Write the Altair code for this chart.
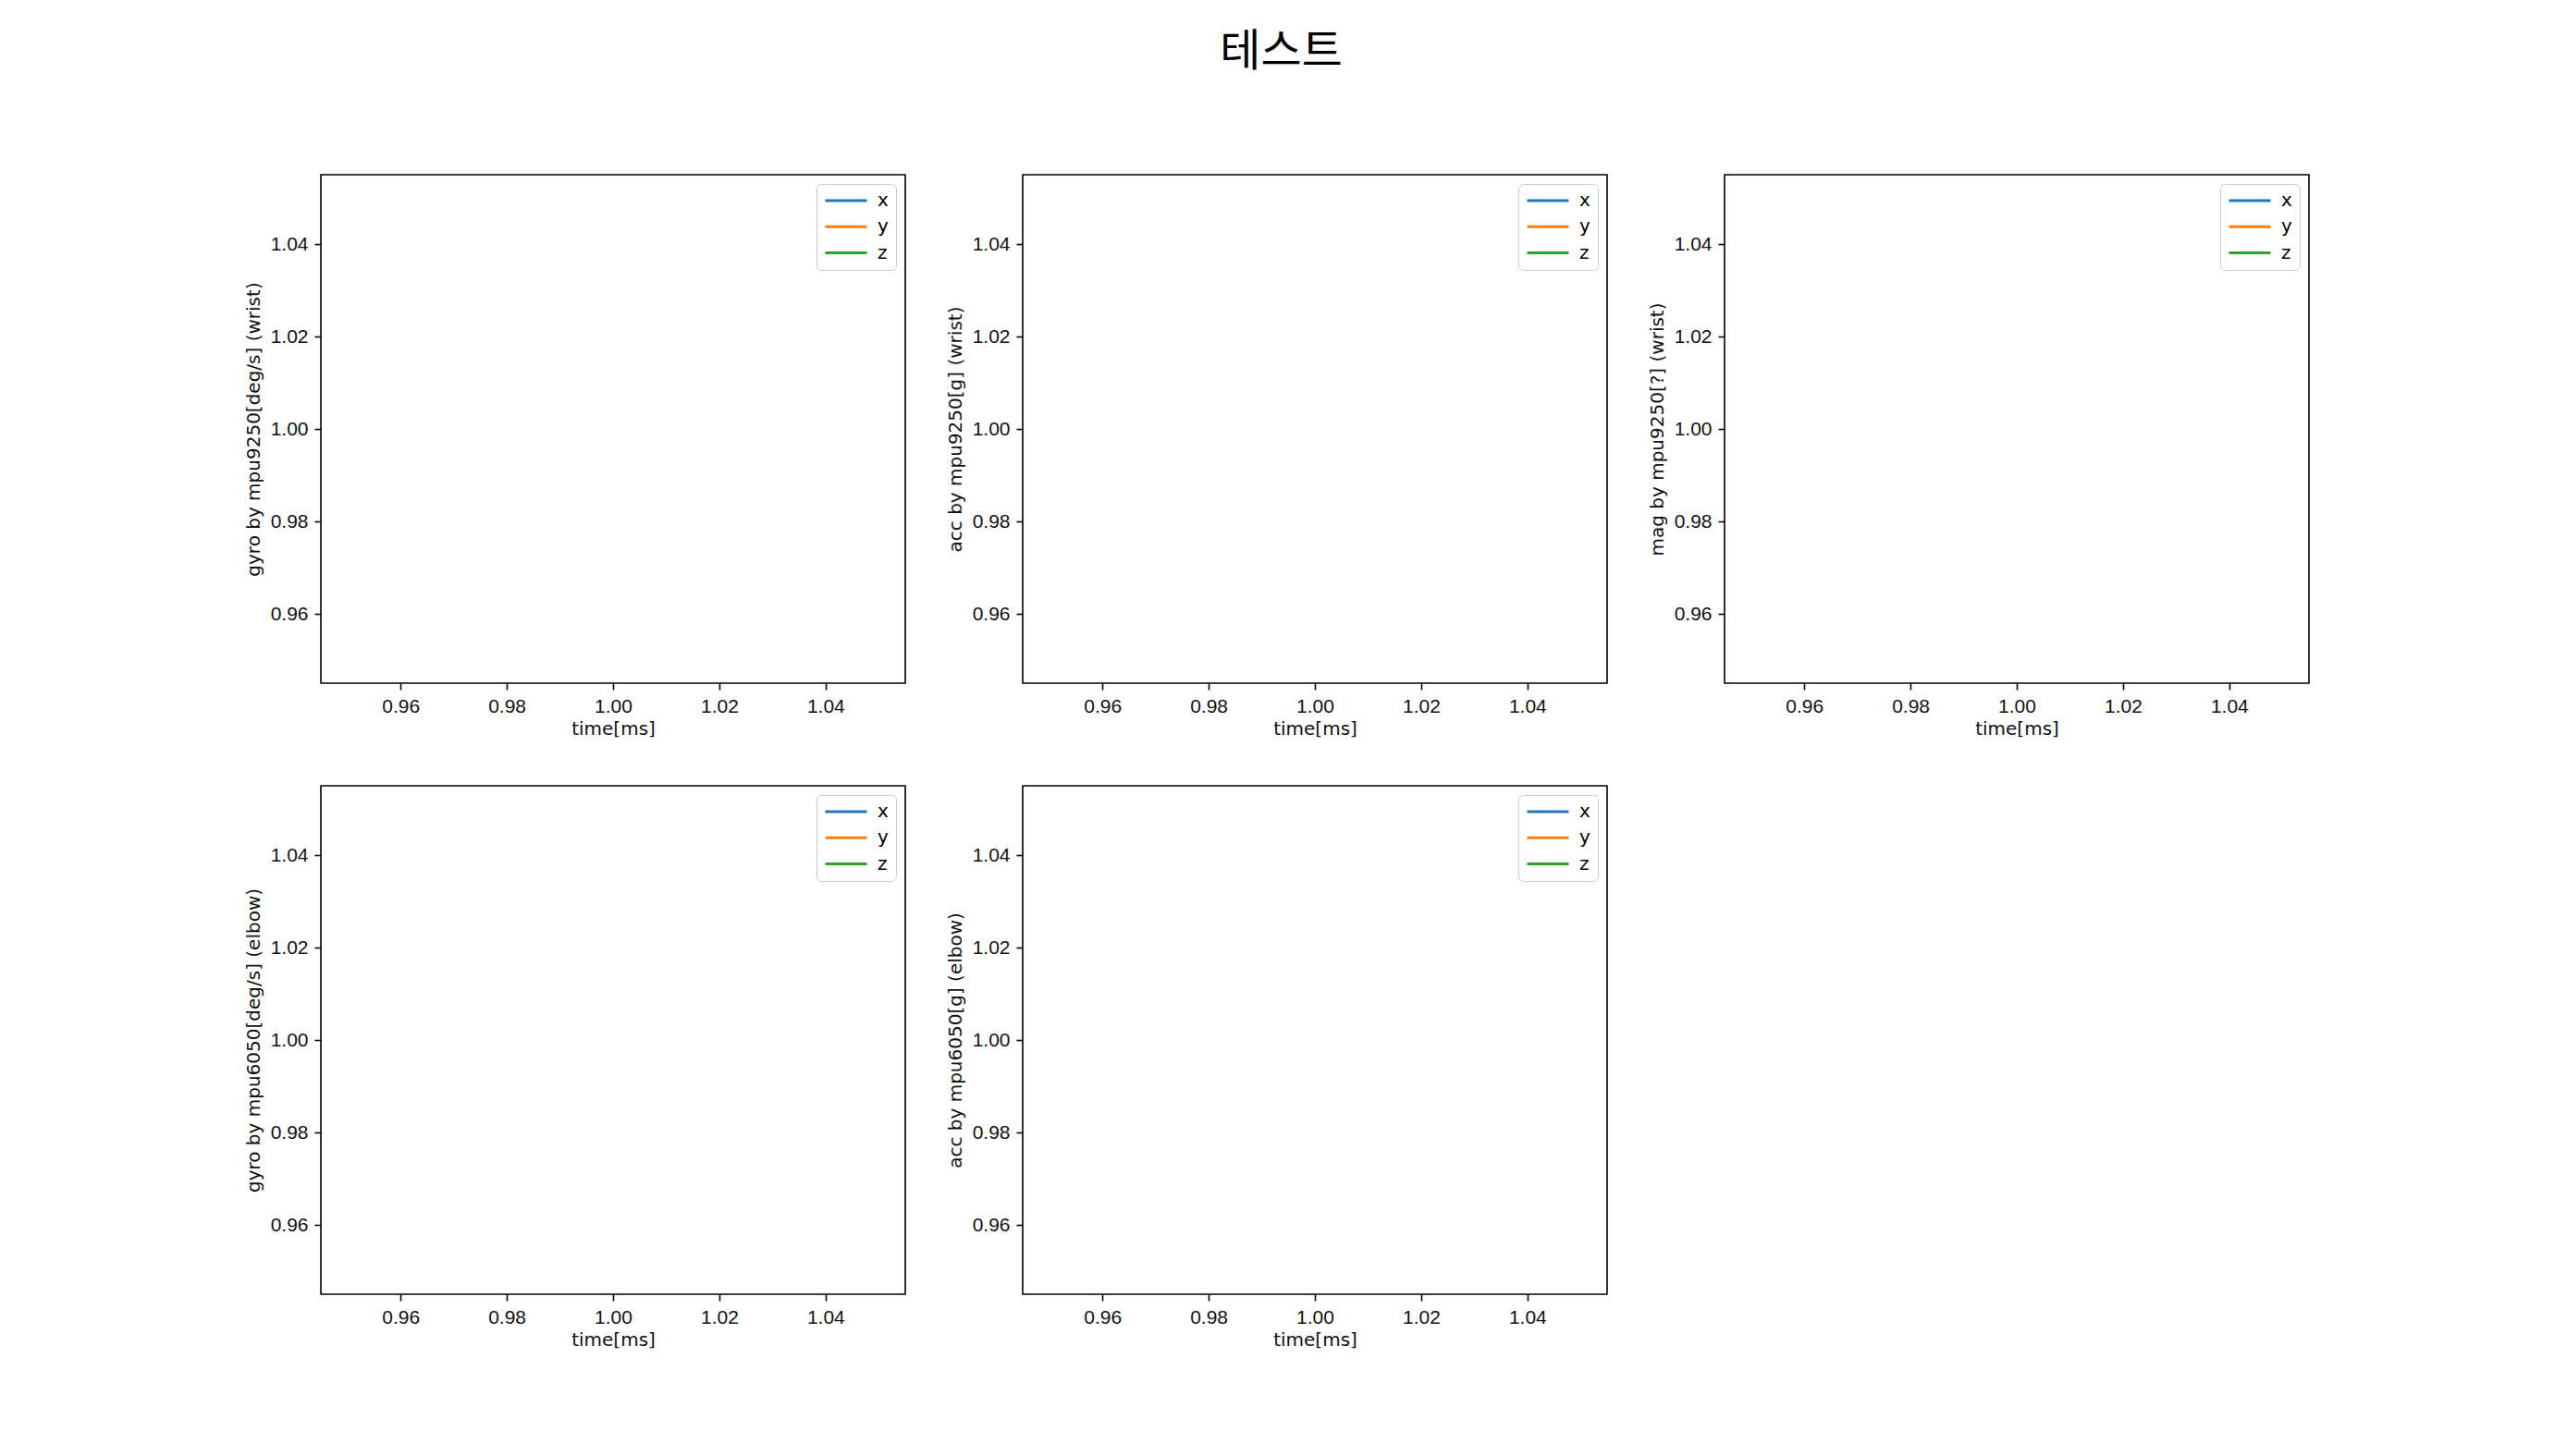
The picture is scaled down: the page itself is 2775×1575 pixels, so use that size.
import altair as alt
import pandas as pd

# ---- data ----
SUPTITLE = "테스트"
Y_TITLES = [
    "gyro by mpu9250[deg/s] (wrist)",
    "acc by mpu9250[g] (wrist)",
    "mag by mpu9250[?] (wrist)",
    "gyro by mpu6050[deg/s] (elbow)",
    "acc by mpu6050[g] (elbow)",
]
X_TITLE = "time[ms]"
SERIES = ["x", "y", "z"]
COLORS = ["#1f77b4", "#ff7f0e", "#2ca02c"]
TIME = [1.0]
X_VALUES = [1.0]
Y_VALUES = [1.0]
Z_VALUES = [1.0]
AXIS_DOMAIN = [0.945, 1.055]
TICK_VALUES = [0.96, 0.98, 1.00, 1.02, 1.04]

rows = []
for name, vals in zip(SERIES, [X_VALUES, Y_VALUES, Z_VALUES]):
    for t, v in zip(TIME, vals):
        rows.append({"time": t, "value": v, "series": name})
df = pd.DataFrame(rows)

PW, PH = 632, 550


def panel(ytitle):
    return (
        alt.Chart(df)
        .mark_line(strokeWidth=3)
        .encode(
            x=alt.X(
                "time:Q",
                scale=alt.Scale(domain=AXIS_DOMAIN, nice=False, zero=False),
                axis=alt.Axis(values=TICK_VALUES, format=".2f", title=X_TITLE),
            ),
            y=alt.Y(
                "value:Q",
                scale=alt.Scale(domain=AXIS_DOMAIN, nice=False, zero=False),
                axis=alt.Axis(values=TICK_VALUES, format=".2f", title=ytitle),
            ),
            color=alt.Color(
                "series:N",
                scale=alt.Scale(domain=SERIES, range=COLORS),
                legend=alt.Legend(
                    title=None,
                    orient="top-right",
                    offset=10,
                    symbolType="stroke",
                    symbolSize=2025,
                    symbolStrokeWidth=3,
                    clipHeight=20,
                    rowPadding=8.3,
                    labelOffset=10,
                    labelFont="DejaVu Sans",
                    labelFontSize=20,
                    labelColor="black",
                    padding=8,
                    strokeColor="#cccccc",
                    cornerRadius=5,
                    fillColor="white",
                ),
            ),
        )
        .properties(width=PW, height=PH)
    )


charts = [panel(t) for t in Y_TITLES]

chart = (
    alt.concat(*charts, columns=3, spacing={"row": 111, "column": 127}, bounds="flush")
    .resolve_scale(color="independent")
    .resolve_legend(color="independent")
    .properties(
        title=alt.TitleParams(
            SUPTITLE,
            font="Noto Sans CJK KR",
            fontSize=48,
            fontWeight="normal",
            color="black",
            anchor="middle",
            offset=69,
            dx=5,
            baseline="alphabetic",
        ),
        autosize=alt.AutoSizeParams(type="none"),
        padding={"left": 347, "top": 189, "right": 2775 - 347, "bottom": 1575 - 189},
        background="white",
    )
    .configure_view(stroke="black", strokeWidth=1.6)
    .configure_axis(
        domain=False,
        grid=False,
        tickColor="black",
        tickWidth=1.6,
        tickSize=7,
        labelFont="Liberation Sans",
        labelFontSize=21,
        labelColor="#111111",
        labelPadding=7,
        titleFont="DejaVu Sans",
        titleFontSize=20,
        titleFontWeight="normal",
        titleColor="#111111",
    )
    .configure_axisX(titlePadding=4)
    .configure_axisY(titlePadding=8)
)

chart.save("out.html", embed_options={"renderer": "svg", "actions": False})
